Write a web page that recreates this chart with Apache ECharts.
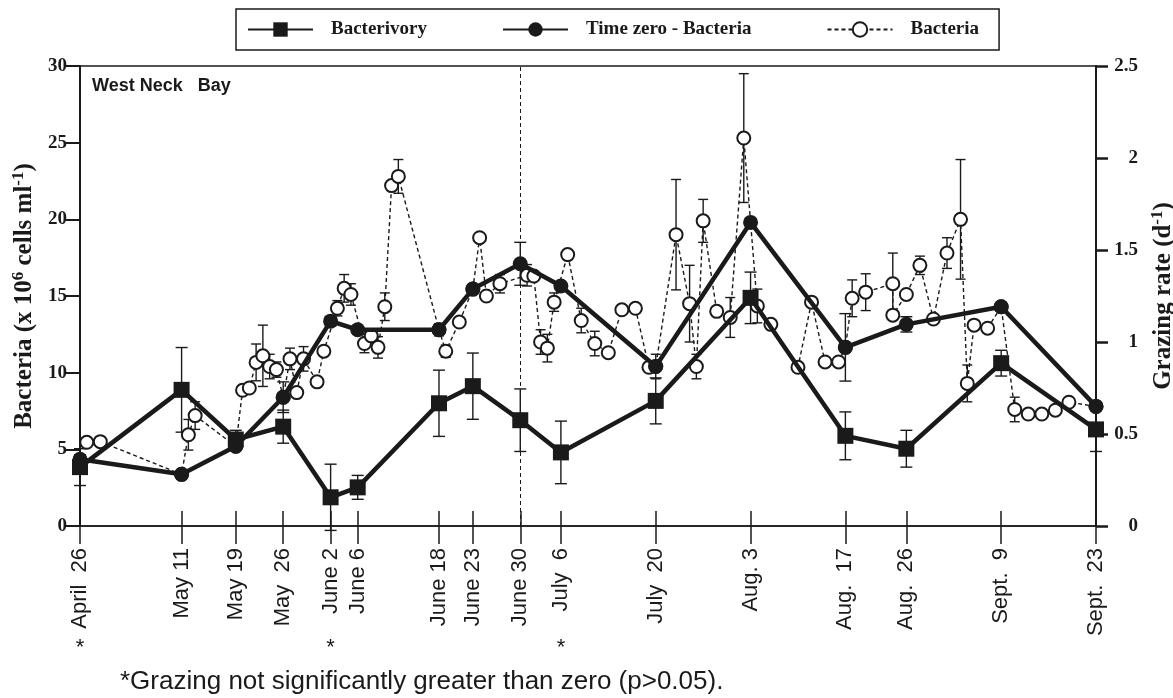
<!DOCTYPE html>
<html>
<head>
<meta charset="utf-8">
<script src="https://cdn.jsdelivr.net/npm/echarts@6/dist/echarts.min.js"></script>
<style>
  html, body { margin: 0; background: #fff; }
  #chart { width: 1173px; height: 698px; }
</style>
</head>
<body>
<div id="chart"></div>
<script>
// x values are days counted from April 26
const sampleDays = [0, 15, 23, 30, 37, 41, 53, 58, 65, 71, 85, 99, 113, 122, 136, 150]
const sampleLabels = ["April  26", "May 11", "May 19", "May  26", "June 2", "June 6", "June 18", "June 23",
  "June 30", "July  6", "July  20", "Aug. 3", "Aug.  17", "Aug.  26", "Sept.  9", "Sept.  23"]
const notSignificantDays = [0, 37, 71]
const dividerDay = 65

// grazing rate (d-1), right axis
const bacterivory = [0.32, 0.74, 0.47, 0.54, 0.156, 0.21, 0.667, 0.76, 0.575, 0.40, 0.68, 1.24, 0.49, 0.42, 0.885, 0.525]
const bacterivoryErr = [0.1, 0.23, 0.05, 0.09, 0.18, 0.065, 0.18, 0.18, 0.17, 0.17, 0.125, 0.14, 0.13, 0.1, 0.07, 0.12]

// x 10^6 cells ml-1, left axis
const timeZero = [4.35, 3.37, 5.2, 8.4, 13.36, 12.8, 12.8, 15.45, 17.1, 15.65, 10.4, 19.8, 11.65, 13.15, 14.3, 7.8]
const timeZeroErr = [0.3, 0, 0, 1.0, 0.3, 0, 0.3, 0, 1.4, 0, 0, 0, 2.2, 0.5, 0, 0]

const bacteriaDays = [1, 3, 15, 16, 17, 23, 24, 25, 26, 27, 28, 29, 30, 31, 32, 33, 35, 36, 38, 39,
  40, 42, 43, 44, 45, 46, 47, 53, 54, 56, 58, 59, 60, 62, 66, 67, 68, 69, 70, 72,
  74, 76, 78, 80, 82, 84, 85, 88, 90, 91, 92, 94, 96, 98, 100, 102, 106, 108, 110, 112,
  113, 114, 116, 120, 120, 122, 124, 126, 128, 130, 131, 132, 134, 136, 138, 140, 142, 144, 146, 150]
const bacteria = [5.46, 5.5, 3.37, 5.95, 7.2, 5.2, 8.85, 9.0, 10.67, 11.1, 10.4, 10.2, 8.4, 10.9, 8.7, 10.9, 9.4, 11.4, 14.2, 15.5,
  15.1, 11.9, 12.4, 11.65, 14.3, 22.2, 22.8, 12.8, 11.4, 13.3, 15.45, 18.8, 15.0, 15.8, 16.35, 16.3, 12.0, 11.6, 14.6, 17.7,
  13.4, 11.9, 11.3, 14.1, 14.2, 10.35, 10.4, 19.0, 14.5, 10.4, 19.9, 14.0, 13.6, 25.3, 14.35, 13.15, 10.35, 14.6, 10.7, 10.7,
  11.65, 14.85, 15.25, 15.8, 13.75, 15.1, 17.0, 13.5, 17.8, 20.0, 9.3, 13.1, 12.9, 14.3, 7.6, 7.3, 7.3, 7.55, 8.07, 7.8]
const bacteriaErr = [0, 0, 0, 1.0, 0.9, 0, 0, 0, 1.2, 2.0, 0.8, 0.5, 0, 0.7, 0, 0.8, 0, 0, 0.5, 0.9,
  0.7, 0.6, 0, 0.7, 0.9, 0, 1.1, 0.4, 0.4, 0, 0, 0, 0, 0.6, 0.7, 0, 0.8, 0.9, 0.6, 0,
  0.8, 0.8, 0, 0, 0, 0, 0.8, 3.6, 2.5, 0.8, 1.4, 0, 1.3, 4.2, 1.1, 0, 0, 0, 0, 0,
  0, 1.2, 1.2, 2.0, 0, 0, 0.6, 0, 1.0, 3.9, 1.2, 0, 0, 0, 0.8, 0, 0, 0, 0, 0]

const ink = "#1a1a1a"
const sans = "Liberation Sans"
const serif = "Liberation Serif"

function errorBars(name, days, vals, errs, yAxisIndex, cap) {
  return {
    name: name,
    type: "custom",
    yAxisIndex: yAxisIndex,
    silent: true,
    z: 1,
    data: days.map((d, i) => [d, vals[i], errs[i]]),
    encode: { x: 0, y: 1 },
    renderItem: (params, api) => {
      const x = api.value(0), v = api.value(1), e = api.value(2)
      if (!e) return null
      const hi = api.coord([x, v + e])
      const lo = api.coord([x, v - e])
      const style = { stroke: ink, lineWidth: 1.4 }
      return {
        type: "group",
        children: [
          { type: "line", shape: { x1: hi[0], y1: hi[1], x2: lo[0], y2: lo[1] }, style: style },
          { type: "line", shape: { x1: hi[0] - cap, y1: hi[1], x2: hi[0] + cap, y2: hi[1] }, style: style },
          { type: "line", shape: { x1: lo[0] - cap, y1: lo[1], x2: lo[0] + cap, y2: lo[1] }, style: style }
        ]
      }
    }
  }
}

const nameRich = {
  b: { fontFamily: serif, fontWeight: "bold", fontSize: 25, color: ink },
  s: { fontFamily: serif, fontWeight: "bold", fontSize: 17, color: ink, verticalAlign: "top", padding: [0, 0, 12, 0] }
}

const chart = echarts.init(document.getElementById("chart"))

chart.setOption({
  animation: false,
  backgroundColor: "#fff",
  title: [
    {
      text: "West Neck   Bay",
      left: 92, top: 77, padding: 0,
      textStyle: { fontFamily: sans, fontWeight: "bold", fontSize: 18, color: ink }
    },
    {
      text: "*Grazing not significantly greater than zero (p>0.05).",
      left: 120, top: 669, padding: 0,
      textStyle: { fontFamily: sans, fontWeight: "normal", fontSize: 26, color: ink }
    }
  ],
  legend: {
    data: ["Bacterivory", "Time zero - Bacteria", "Bacteria"],
    left: 236, top: 9,
    padding: [11, 20, 11, 11],
    itemWidth: 65, itemHeight: 18, itemGap: 75,
    borderColor: ink, borderWidth: 1.5,
    textStyle: { fontFamily: serif, fontWeight: "bold", fontSize: 19, color: ink, padding: [0, 0, 0, 13] }
  },
  grid: {
    left: 80, right: 77, top: 66, bottom: 172,
    outerBoundsMode: "none",
    show: true, borderColor: ink, borderWidth: 1.5
  },
  xAxis: [
    {
      type: "value", min: 0, max: 150, position: "bottom",
      splitLine: { show: false },
      axisLine: { onZero: false, lineStyle: { color: ink, width: 1.5 } },
      axisTick: { customValues: sampleDays, length: 18, lineStyle: { color: ink, width: 1.5 } },
      axisLabel: {
        customValues: sampleDays,
        formatter: v => sampleLabels[sampleDays.indexOf(v)],
        rotate: 90, margin: 22,
        fontFamily: sans, fontSize: 22, color: ink
      }
    },
    {
      type: "value", min: 0, max: 150, position: "bottom",
      splitLine: { show: false },
      axisLine: { show: false, onZero: false },
      axisTick: { customValues: sampleDays, inside: true, length: 15, lineStyle: { color: ink, width: 1.5 } },
      axisLabel: { show: false }
    },
    {
      type: "value", min: 0, max: 150, position: "bottom", offset: 103,
      splitLine: { show: false },
      axisLine: { show: false, onZero: false },
      axisTick: { show: false },
      axisLabel: {
        customValues: notSignificantDays,
        formatter: () => "*",
        margin: 8,
        fontFamily: sans, fontSize: 22, color: ink
      }
    }
  ],
  yAxis: [
    {
      type: "value", min: 0, max: 30, interval: 5, position: "left",
      splitLine: { show: false },
      axisLine: { show: true, onZero: false, lineStyle: { color: ink, width: 2 } },
      axisTick: { show: true, length: 14, lineStyle: { color: ink, width: 2 } },
      axisLabel: { margin: 13, fontFamily: serif, fontWeight: "bold", fontSize: 19, color: ink },
      name: "{b|Bacteria (x 10}{s|6}{b| cells ml}{s|-1}{b|)}",
      nameLocation: "middle", nameRotate: 90, nameGap: 38,
      nameTextStyle: { rich: nameRich }
    },
    {
      type: "value", min: 0, max: 2.5, interval: 0.5, position: "right",
      splitLine: { show: false },
      axisLine: { show: true, onZero: false, lineStyle: { color: ink, width: 2 } },
      axisTick: { show: true, length: 12, lineStyle: { color: ink, width: 2.5 } },
      axisLabel: { margin: 42, align: "right", fontFamily: serif, fontWeight: "bold", fontSize: 19, color: ink },
      name: "{b|Grazing rate (d}{s|-1}{b|)}",
      nameLocation: "middle", nameRotate: 90, nameGap: 48,
      nameTextStyle: { rich: nameRich }
    }
  ],
  series: [
    errorBars("bacteria-err", bacteriaDays, bacteria, bacteriaErr, 0, 5),
    errorBars("timezero-err", sampleDays, timeZero, timeZeroErr, 0, 6),
    errorBars("bacterivory-err", sampleDays, bacterivory, bacterivoryErr, 1, 6),
    {
      name: "Bacteria",
      type: "line",
      yAxisIndex: 0,
      data: bacteriaDays.map((d, i) => [d, bacteria[i]]),
      symbol: "emptyCircle", symbolSize: 13,
      lineStyle: { color: ink, width: 1.4, type: [4, 3] },
      itemStyle: { color: ink, borderWidth: 1.5 },
      z: 2,
      markLine: {
        silent: true, symbol: "none",
        label: { show: false },
        lineStyle: { color: ink, width: 1, type: [4, 3] },
        data: [{ xAxis: dividerDay }]
      }
    },
    {
      name: "Time zero - Bacteria",
      type: "line",
      yAxisIndex: 0,
      data: sampleDays.map((d, i) => [d, timeZero[i]]),
      symbol: "circle", symbolSize: 15,
      lineStyle: { color: ink, width: 4.5 },
      itemStyle: { color: ink },
      z: 4
    },
    {
      name: "Bacterivory",
      type: "line",
      yAxisIndex: 1,
      data: sampleDays.map((d, i) => [d, bacterivory[i]]),
      symbol: "rect", symbolSize: 16,
      lineStyle: { color: ink, width: 4.5 },
      itemStyle: { color: ink },
      z: 4
    }
  ]
})
</script>
</body>
</html>
